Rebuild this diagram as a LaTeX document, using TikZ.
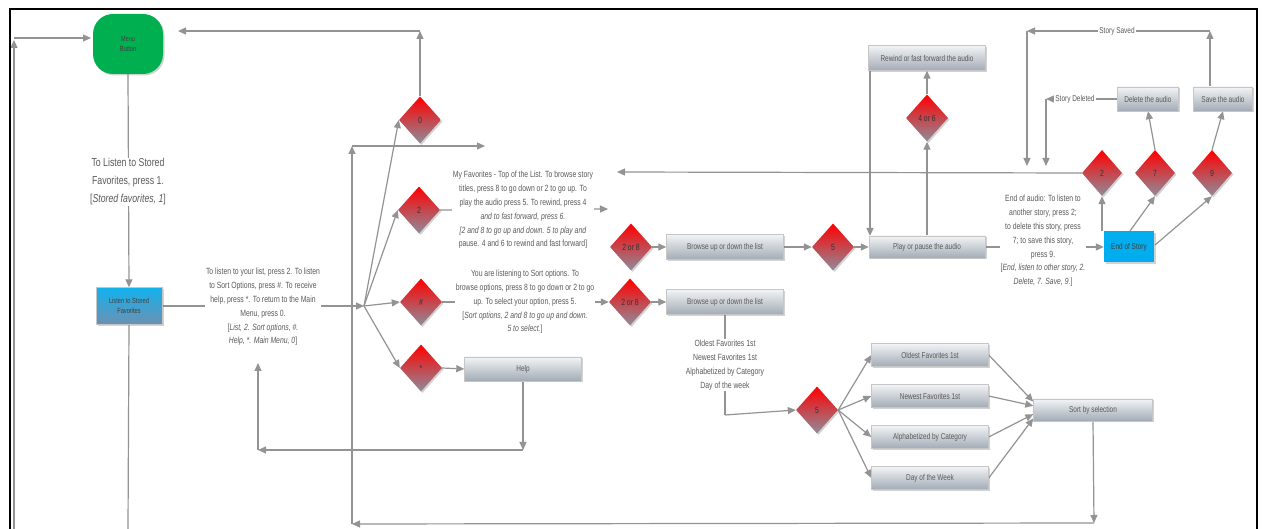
\documentclass[tikz,border=0pt]{standalone}
\usepackage{fontspec}
\setmainfont{Liberation Sans}[FakeStretch=0.76]
\usetikzlibrary{shapes.geometric,arrows.meta,shadows,backgrounds}
\definecolor{lgray}{HTML}{939393}
\definecolor{txt}{HTML}{5A5A5A}
\definecolor{gtop}{HTML}{F2F4F6}
\definecolor{gbot}{HTML}{A2ABB5}
\definecolor{dbot}{HTML}{8E8C9A}
\definecolor{mgreen}{HTML}{00B050}
\definecolor{ctop}{HTML}{12B2EE}
\definecolor{cbot}{HTML}{6D90B2}
\definecolor{eoscol}{HTML}{00AEEF}
\tikzset{
  line/.style={draw=lgray, line width=1.2pt},
  arr/.style={line, -{Triangle[length=8pt,width=7pt]}},
  shd/.style={drop shadow={shadow xshift=1.5pt, shadow yshift=-1.5pt, opacity=0.35}},
  gbox/.style={rectangle, draw=gray!45, top color=gtop, bottom color=gbot, shd,
    minimum width=117pt, minimum height=24pt, inner sep=1pt,
    font=\fontsize{8.5}{10}\selectfont, text=txt},
  dmd/.style={diamond, top color=red, bottom color=dbot, shd,
    minimum width=42pt, minimum height=47pt, inner sep=0pt,
    font=\fontsize{9}{10}\selectfont, text=black!80},
  txtblk/.style={fill=white, align=center, text=txt, inner sep=1pt,
    font=\fontsize{9}{13.8}\selectfont},
  lbl/.style={fill=white, text=txt, inner sep=1pt, font=\fontsize{8.5}{10}\selectfont},
}
\begin{document}
\begin{tikzpicture}[x=1pt,y=-1pt]
\useasboundingbox (0,0) rectangle (1262,529);
% frame
\draw[black, line width=2pt] (10,529) -- (10,9) -- (1257,9) -- (1257,529);

% ---------- nodes ----------
\node[rounded corners=20pt, fill=mgreen, shd, minimum width=70pt, minimum height=60pt,
  align=center, text=black!75, font=\fontsize{7.5}{10}\selectfont] (menu) at (128,44) {Menu\\Button};
\node[txtblk, font=\fontsize{11.5}{18}\selectfont] (t0) at (128,182)
  {To Listen to Stored\\Favorites, press 1.\\{[}\textit{Stored favorites, 1}{]}};
\node[rectangle, draw=gray!45, top color=ctop, bottom color=cbot, shd, minimum width=66pt,
  minimum height=37pt, align=center, text=black!75, font=\fontsize{7.5}{10}\selectfont]
  (lsf) at (129,306) {Listen to Stored\\Favorites};
\node[txtblk] (t1) at (263,307)
  {To listen to your list, press 2. To listen\\to Sort Options, press \#. To receive\\help, press *. To return to the Main\\Menu, press 0.\\{[}\textit{List, 2. Sort options, \#.}\\\textit{Help, *. Main Menu, 0}{]}};
\coordinate (hub) at (364,306);

\node[dmd] (d0) at (420,120) {0};
\node[dmd] (d2) at (419,210) {2};
\node[dmd] (dh) at (421,302) {\#};
\node[dmd] (ds) at (421,368) {*};
\node[gbox] (help) at (523,369) {Help};

\node[txtblk] (t2) at (523,210)
  {My Favorites - Top of the List. To browse story\\titles, press 8 to go down or 2 to go up. To\\play the audio press 5. To rewind, press 4\\\textit{and to fast forward,  press 6.}\\\textit{[2 and 8 to go up and down. 5 to play and}\\pause. 4 and 6 to rewind and fast forward]};
\node[txtblk] (t3) at (525,302)
  {You are listening to Sort options. To\\browse options, press 8 to go down or 2 to go\\up. To select your option, press 5.\\{[}\textit{Sort options, 2 and 8 to go up and down.}\\\textit{5 to select.}{]}};

\node[dmd] (d28a) at (631,247) {2 or 8};
\node[dmd] (d28b) at (630,302) {2 or 8};
\node[gbox, minimum height=25pt] (b1) at (725,247) {Browse up or down the list};
\node[gbox, minimum height=25pt] (b2) at (725,302) {Browse up or down the list};
\node[dmd] (d5a) at (833,247) {5};
\node[gbox, minimum width=116pt, minimum height=22pt] (play) at (927,247) {Play or pause the audio};
\node[dmd] (d46) at (927,118) {4 or 6};
\node[gbox, minimum height=25pt] (rew) at (927,58) {Rewind or fast forward the audio};

\node[txtblk] (t4) at (1043,241)
  {End of audio: To listen to\\another story, press 2;\\to delete this story, press\\7; to save this story,\\press 9.\\{[}\textit{End, listen to other story, 2.}\\\textit{Delete, 7. Save, 9.}{]}};
\node[rectangle, fill=eoscol, shd, minimum width=50pt, minimum height=31pt, inner sep=1pt,
  text=black!75, font=\fontsize{8.5}{10}\selectfont] (eos) at (1129,247) {End of Story};
\node[dmd, minimum width=40pt, minimum height=46pt] (d2r) at (1102,173) {2};
\node[dmd, minimum width=40pt, minimum height=46pt] (d7) at (1155,173) {7};
\node[dmd, minimum width=40pt, minimum height=46pt] (d9) at (1212,173) {9};
\node[gbox, minimum width=61pt] (del) at (1148,99) {Delete the audio};
\node[gbox, minimum width=59pt] (save) at (1223,99) {Save the audio};

\node[txtblk] (t5) at (725,365)
  {Oldest Favorites 1st\\Newest Favorites 1st\\Alphabetized by Category\\Day of the week};
\node[dmd] (d5b) at (817,410) {5};
\node[gbox, minimum height=23pt] (o1) at (930,355) {Oldest Favorites 1st};
\node[gbox, minimum height=23pt] (o2) at (930,396) {Newest Favorites 1st};
\node[gbox, minimum height=23pt] (o3) at (930,437) {Alphabetized by Category};
\node[gbox, minimum height=23pt] (o4) at (930,478) {Day of the Week};
\node[gbox, minimum width=119pt, minimum height=22pt] (sort) at (1093,410) {Sort by selection};

\node[lbl] (sdl) at (1075,99) {Story Deleted};
\node[lbl] (ssv) at (1117,31) {Story Saved};

% ---------- coordinates ----------
\coordinate (lb) at (14,529);
\coordinate (lt) at (14,40);
\coordinate (lt2) at (14,38);
\coordinate (mw) at (91,38);
\coordinate (c0) at (420,31);
\coordinate (m0) at (178,31);
\coordinate (mb) at (128,529);
\coordinate (t2r) at (608,209);
\coordinate (t2l) at (617,172);
\coordinate (h1) at (523,450);
\coordinate (h2) at (258,450);
\coordinate (h3) at (258,363);
\coordinate (s1) at (1094,523);
\coordinate (s2) at (352,524);
\coordinate (s3) at (352,146);
\coordinate (s4) at (485,146);
\coordinate (rl1) at (870,71);
\coordinate (rl2) at (870,236);
\coordinate (dl1) at (1046,99);
\coordinate (dl2) at (1046,166);
\coordinate (sv0) at (1210,87);
\coordinate (sv1) at (1210,31);
\coordinate (sv2) at (1027,31);
\coordinate (sv3) at (1027,166);
\coordinate (eosa) at (1102,231);
\coordinate (eosb) at (1130,231);
\coordinate (eosr) at (1155,245);
\coordinate (b2a) at (725,415);

% ---------- connectors ----------
\begin{scope}[on background layer]
\fill[white] (0,0) rectangle (1262,529);
\draw[arr] (lb) -- (lt);
\draw[arr] (lt2) -- (mw);
\draw[arr] (menu.south) -- (lsf.north);
\draw[line] (lsf.south) -- (mb);
\draw[arr] (lsf.east) -- (hub);
\draw[arr] (hub) -- (d0.west);
\draw[arr] (hub) -- (d2.west);
\draw[arr] (hub) -- (dh.west);
\draw[arr] (hub) -- (ds.west);
\draw[arr] (d0.north) -- (c0);
\draw[arr] (c0) -- (m0);
\draw[arr] (d2.east) -- (t2r);
\draw[arr] (dh.east) -- (d28b.west);
\draw[arr] (ds.east) -- (help.west);
\draw[arr] (help.south) -- (h1);
\draw[arr] (h1) -- (h2);
\draw[arr] (h2) -- (h3);
\draw[arr] (sort.south) -- (s1);
\draw[arr] (s1) -- (s2);
\draw[arr] (s2) -- (s3);
\draw[arr] (s3) -- (s4);
\draw[arr] (d28a.east) -- (b1.west);
\draw[arr] (b1.east) -- (d5a.west);
\draw[arr] (d5a.east) -- (play.west);
\draw[arr] (d28b.east) -- (b2.west);
\draw[arr] (play.north) -- (d46.south);
\draw[arr] (d46.north) -- (rew.south);
\draw[arr] (rl1) -- (rl2);
\draw[arr] (play.east) -- (eos.west);
\draw[arr] (eosa) -- (d2r.south);
\draw[arr] (eosb) -- (d7.south);
\draw[arr] (eosr) -- (d9.south);
\draw[arr] (d2r.west) -- (t2l);
\draw[arr] (d7.north) -- (del.south);
\draw[arr] (d9.north) -- (save.south);
\draw[arr] (del.west) -- (dl1);
\draw[arr] (dl1) -- (dl2);
\draw[arr] (sv0) -- (sv1);
\draw[arr] (sv1) -- (sv2);
\draw[arr] (sv2) -- (sv3);
\draw[line] (b2.south) -- (b2a);
\draw[arr] (b2a) -- (d5b.west);
\draw[arr] (d5b.east) -- (o1.west);
\draw[arr] (d5b.east) -- (o2.west);
\draw[arr] (d5b.east) -- (o3.west);
\draw[arr] (d5b.east) -- (o4.west);
\draw[arr] (o1.east) -- (sort.172);
\draw[arr] (o2.east) -- (sort.176);
\draw[arr] (o3.east) -- (sort.184);
\draw[arr] (o4.east) -- (sort.188);
\end{scope}
\end{tikzpicture}
\end{document}
